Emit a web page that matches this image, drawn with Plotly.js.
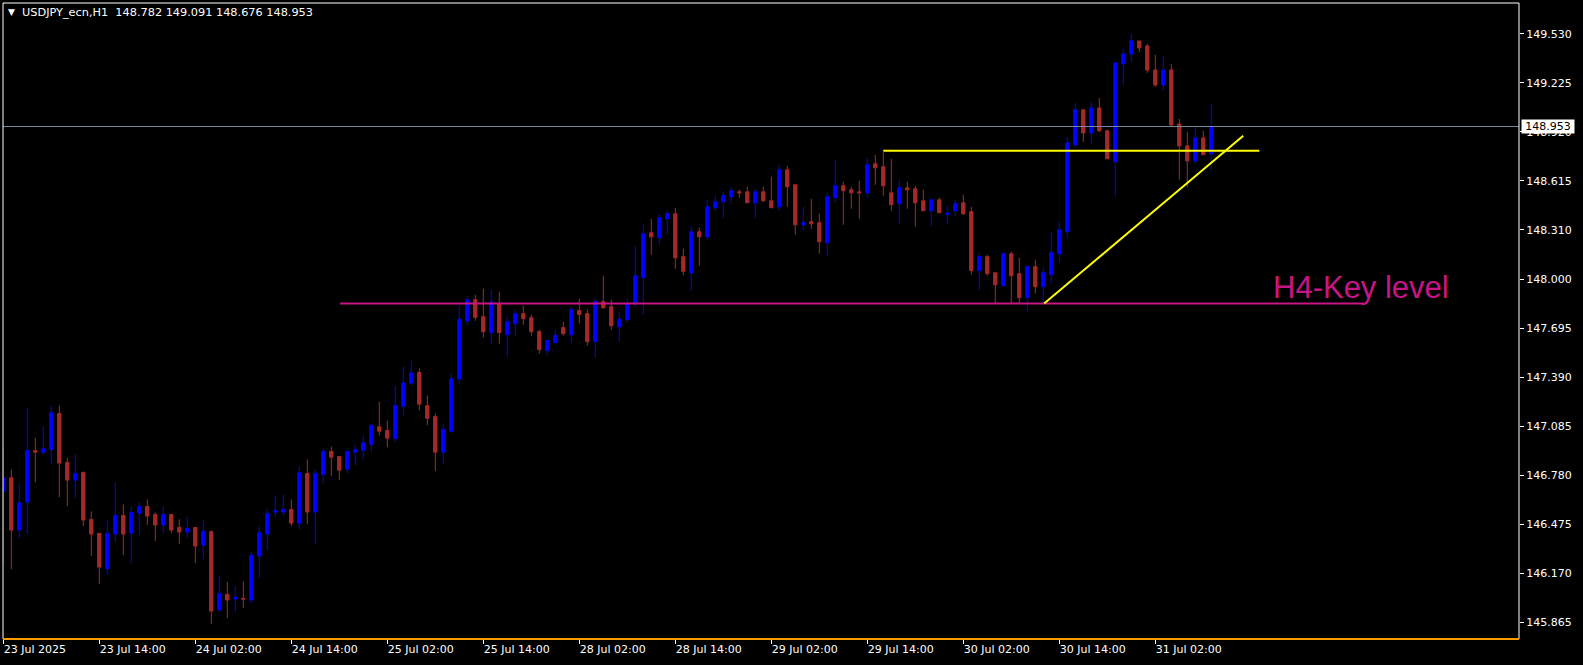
<!DOCTYPE html>
<html>
<head>
<meta charset="utf-8">
<script src="https://cdn.plot.ly/plotly-3.0.1.min.js"></script>
<style>html,body{margin:0;padding:0;background:#000;}#chart{width:1583px;height:665px;}</style>
</head>
<body>
<div id="chart"></div>
<script>
// ---- Data (USDJPY_ecn, H1) ----
const symbol = 'USDJPY_ecn,H1';
const openP = [146.681,146.764,146.439,146.613,146.934,146.924,146.941,147.165,146.860,146.750,146.797,146.505,146.418,146.200,146.414,146.530,146.420,146.544,146.586,146.536,146.470,146.536,146.455,146.426,146.455,146.345,146.428,145.941,146.038,146.009,146.013,146.003,146.277,146.414,146.551,146.551,146.567,146.482,146.791,146.551,146.785,146.928,146.897,146.818,146.924,146.936,146.972,147.082,147.059,147.009,147.210,147.355,147.420,147.214,147.146,146.924,147.055,147.380,147.743,147.874,147.768,147.669,147.849,147.656,147.725,147.787,147.762,147.675,147.557,147.606,147.700,147.656,147.806,147.787,147.613,147.862,147.830,147.706,147.750,147.849,148.011,148.291,148.260,148.378,148.409,148.142,148.042,148.297,148.266,148.447,148.484,148.515,148.546,148.546,148.478,148.546,148.490,148.453,148.683,148.590,148.341,148.360,148.354,148.229,148.509,148.584,148.559,148.546,148.540,148.721,148.702,148.540,148.472,148.571,148.565,148.490,148.428,148.496,148.405,148.428,148.478,148.422,148.055,148.142,148.042,147.961,148.160,148.036,147.887,148.080,147.955,148.030,148.160,148.297,148.839,149.057,148.913,149.069,148.926,148.733,149.343,149.405,149.486,149.455,149.305,149.212,149.305,148.969,148.832,148.739,148.882,148.782];
const highP = [146.945,146.816,146.729,147.204,147.013,147.082,147.214,147.214,146.889,146.910,146.804,146.555,146.422,146.499,146.733,146.598,146.584,146.613,146.629,146.549,146.586,146.536,146.505,146.524,146.455,146.499,146.439,146.156,146.115,146.088,146.119,146.306,146.461,146.573,146.654,146.660,146.629,146.835,146.878,146.816,146.947,146.959,146.897,146.934,146.972,147.028,147.102,147.239,147.121,147.339,147.457,147.494,147.445,147.277,147.165,147.096,147.414,147.837,147.899,147.905,147.943,147.936,147.924,147.768,147.812,147.837,147.781,147.687,147.619,147.687,147.737,147.830,147.880,147.812,147.880,148.023,147.874,147.799,147.880,148.210,148.341,148.378,148.409,148.434,148.447,148.192,148.329,148.322,148.497,148.522,148.546,148.578,148.559,148.578,148.565,148.578,148.640,148.714,148.708,148.590,148.453,148.503,148.410,148.540,148.746,148.609,148.578,148.615,148.758,148.777,148.795,148.752,148.621,148.609,148.584,148.559,148.503,148.509,148.459,148.496,148.528,148.453,148.167,148.154,148.042,148.173,148.173,148.136,148.086,148.123,148.073,148.297,148.360,148.888,149.100,149.057,149.106,149.131,148.932,149.349,149.436,149.529,149.486,149.467,149.399,149.393,149.343,149.000,148.920,148.957,148.926,149.091];
const lowP = [146.235,146.194,146.387,146.412,146.737,146.905,146.847,146.644,146.588,146.636,146.464,146.277,146.103,146.161,146.364,146.283,146.233,146.408,146.470,146.370,146.420,146.420,146.352,146.389,146.233,146.258,145.852,145.928,145.891,145.928,145.953,145.984,146.140,146.314,146.522,146.526,146.463,146.443,146.476,146.351,146.731,146.775,146.750,146.793,146.843,146.880,146.924,147.028,146.955,146.986,147.154,147.341,147.185,147.092,146.806,146.847,147.044,147.353,147.714,147.743,147.638,147.594,147.600,147.519,147.650,147.718,147.650,147.538,147.526,147.606,147.650,147.606,147.725,147.588,147.513,147.818,147.687,147.613,147.731,147.830,147.781,148.154,148.216,148.279,148.067,148.026,147.930,148.086,148.248,148.428,148.385,148.472,148.509,148.478,148.385,148.484,148.447,148.428,148.453,148.279,148.304,148.316,148.161,148.148,148.478,148.341,148.441,148.378,148.509,148.590,148.522,148.428,148.341,148.441,148.329,148.428,148.335,148.416,148.347,148.391,148.403,148.030,147.936,148.024,147.849,147.955,147.849,147.849,147.793,147.912,147.849,147.974,148.104,148.254,148.820,148.857,148.839,148.920,148.752,148.521,149.212,149.355,149.417,149.287,149.200,149.175,148.951,148.621,148.577,148.720,148.777,148.676];
const closeP = [146.764,146.439,146.609,146.934,146.924,146.945,147.169,146.856,146.750,146.791,146.501,146.414,146.208,146.418,146.530,146.414,146.547,146.586,146.526,146.470,146.536,146.439,146.426,146.449,146.339,146.430,145.934,146.044,146.003,146.020,146.009,146.281,146.422,146.542,146.559,146.567,146.482,146.795,146.551,146.791,146.928,146.893,146.812,146.928,146.940,146.982,147.090,147.055,147.011,147.214,147.355,147.418,147.223,147.135,146.924,147.065,147.380,147.750,147.874,147.764,147.675,147.860,147.669,147.737,147.787,147.756,147.675,147.563,147.619,147.650,147.662,147.812,147.781,147.613,147.862,147.824,147.712,147.750,147.849,148.023,148.285,148.266,148.384,148.409,148.135,148.051,148.297,148.266,148.453,148.484,148.522,148.553,148.540,148.478,148.546,148.490,148.447,148.683,148.578,148.341,148.354,148.347,148.235,148.515,148.584,148.553,148.540,148.540,148.714,148.696,148.584,148.466,148.571,148.559,148.478,148.428,148.496,148.416,148.413,148.472,148.409,148.055,148.142,148.036,147.967,148.160,148.024,147.887,148.080,147.955,148.042,148.167,148.310,148.851,149.057,148.913,149.069,148.926,148.752,149.349,149.405,149.486,149.442,149.305,149.212,149.305,148.963,148.832,148.739,148.882,148.777,148.953];

// time-axis labels (bar index of each label)
const tickBars = [0,12,24,36,48,60,72,84,96,108,120,132,144];
const tickLabels = ['23 Jul 2025','23 Jul 14:00','24 Jul 02:00','24 Jul 14:00','25 Jul 02:00','25 Jul 14:00','28 Jul 02:00','28 Jul 14:00','29 Jul 02:00','29 Jul 14:00','30 Jul 02:00','30 Jul 14:00','31 Jul 02:00'];
const priceTicks = [145.865,146.170,146.475,146.780,147.085,147.390,147.695,148.000,148.310,148.615,148.920,149.225,149.530];

// drawn objects
const keyLevelPrice = 147.850;
const keyLevelBars = [42.1, 170.0];
const keyLevelText = 'H4-Key level';
const keyLevelTextBar = 158.5;
const keyLevelTextPrice = 147.95;
const resistancePrice = 148.802;
const resistanceBars = [110.0, 157.0];
const trendBars = [130.1, 155.0];
const trendPrices = [147.850, 148.895];

// ---- Chart ----
const bars = openP.map((_, i) => i);
const last = openP.length - 1;
const FONT = 'DejaVu Sans';

const traces = [
  {
    type: 'candlestick', x: bars, open: openP, high: highP, low: lowP, close: closeP,
    increasing: {line: {color: '#0000FF', width: 1}, fillcolor: '#0000FF'},
    decreasing: {line: {color: '#A52A2A', width: 1}, fillcolor: '#A52A2A'},
    whiskerwidth: 0, hoverinfo: 'skip', showlegend: false
  },
  { type: 'scatter', mode: 'lines', x: [-1, 300], y: [closeP[last], closeP[last]],
    line: {color: '#778899', width: 1}, hoverinfo: 'skip' },
  { type: 'scatter', mode: 'lines', x: keyLevelBars, y: [keyLevelPrice, keyLevelPrice],
    line: {color: '#C71585', width: 2}, hoverinfo: 'skip' },
  { type: 'scatter', mode: 'lines', x: resistanceBars, y: [resistancePrice, resistancePrice],
    line: {color: '#FFFF00', width: 2}, hoverinfo: 'skip' },
  { type: 'scatter', mode: 'lines', x: trendBars, y: trendPrices,
    line: {color: '#FFFF00', width: 2}, hoverinfo: 'skip' }
];

const fmt = v => v.toFixed(3);
const headText = symbol + '\u00A0\u00A0' + [openP[last], highP[last], lowP[last], closeP[last]].map(fmt).join(' ');

const layout = {
  width: 1583, height: 665,
  paper_bgcolor: '#000000', plot_bgcolor: '#000000',
  margin: {l: 3, r: 64, t: 3, b: 26, pad: 0},
  showlegend: false,
  boxgap: 0.4,
  font: {family: FONT, size: 11, color: '#FFFFFF'},
  xaxis: {
    range: [-0.0375, 189.4625], tickvals: tickBars, ticktext: tickLabels,
    ticks: 'outside', ticklen: 4, tickcolor: '#FFFFFF', tickwidth: 1,
    ticklabelposition: 'outside right',
    tickfont: {family: FONT, size: 11, color: '#FFFFFF'},
    showgrid: false, zeroline: false, showline: false,
    rangeslider: {visible: false}, fixedrange: true
  },
  yaxis: {
    side: 'right', range: [145.760, 149.7225],
    tickvals: priceTicks, ticktext: priceTicks.map(fmt),
    ticks: 'outside', ticklen: 4, tickcolor: '#FFFFFF', tickwidth: 1,
    tickfont: {family: FONT, size: 11, color: '#FFFFFF'},
    showgrid: false, zeroline: false, showline: false, fixedrange: true
  },
  shapes: [
    {type: 'rect', xref: 'paper', yref: 'paper', x0: 0, x1: 1, y0: 0, y1: 1,
     line: {color: '#FFFFFF', width: 1}, fillcolor: 'rgba(0,0,0,0)'},
    {type: 'line', xref: 'paper', yref: 'paper', x0: 0, x1: 1, y0: 0, y1: 0,
     line: {color: '#FF9900', width: 2}}
  ],
  annotations: [
    {xref: 'paper', yref: 'paper', x: 0, y: 0.9858, xanchor: 'left', yanchor: 'middle',
     xshift: 3, showarrow: false, text: '\u25BC', font: {family: FONT, size: 9, color: '#FFFFFF'}},
    {xref: 'paper', yref: 'paper', x: 0, y: 0.9858, xanchor: 'left', yanchor: 'middle',
     xshift: 17, showarrow: false, text: headText, font: {family: FONT, size: 11.3, color: '#FFFFFF'}},
    {xref: 'x', yref: 'y', x: keyLevelTextBar, y: keyLevelTextPrice, xanchor: 'left', yanchor: 'middle',
     showarrow: false, text: keyLevelText, font: {family: 'Liberation Sans', size: 31, color: '#C71585'}},
    {xref: 'paper', yref: 'y', x: 1, y: closeP[last], xanchor: 'left', yanchor: 'middle',
     xshift: 2, showarrow: false, text: fmt(closeP[last]), bgcolor: '#FFFFFF',
     width: 52, height: 13, borderpad: 0,
     font: {family: FONT, size: 11, color: '#000000'}}
  ]
};

Plotly.newPlot('chart', traces, layout, {staticPlot: true, displayModeBar: false});
</script>
</body>
</html>
